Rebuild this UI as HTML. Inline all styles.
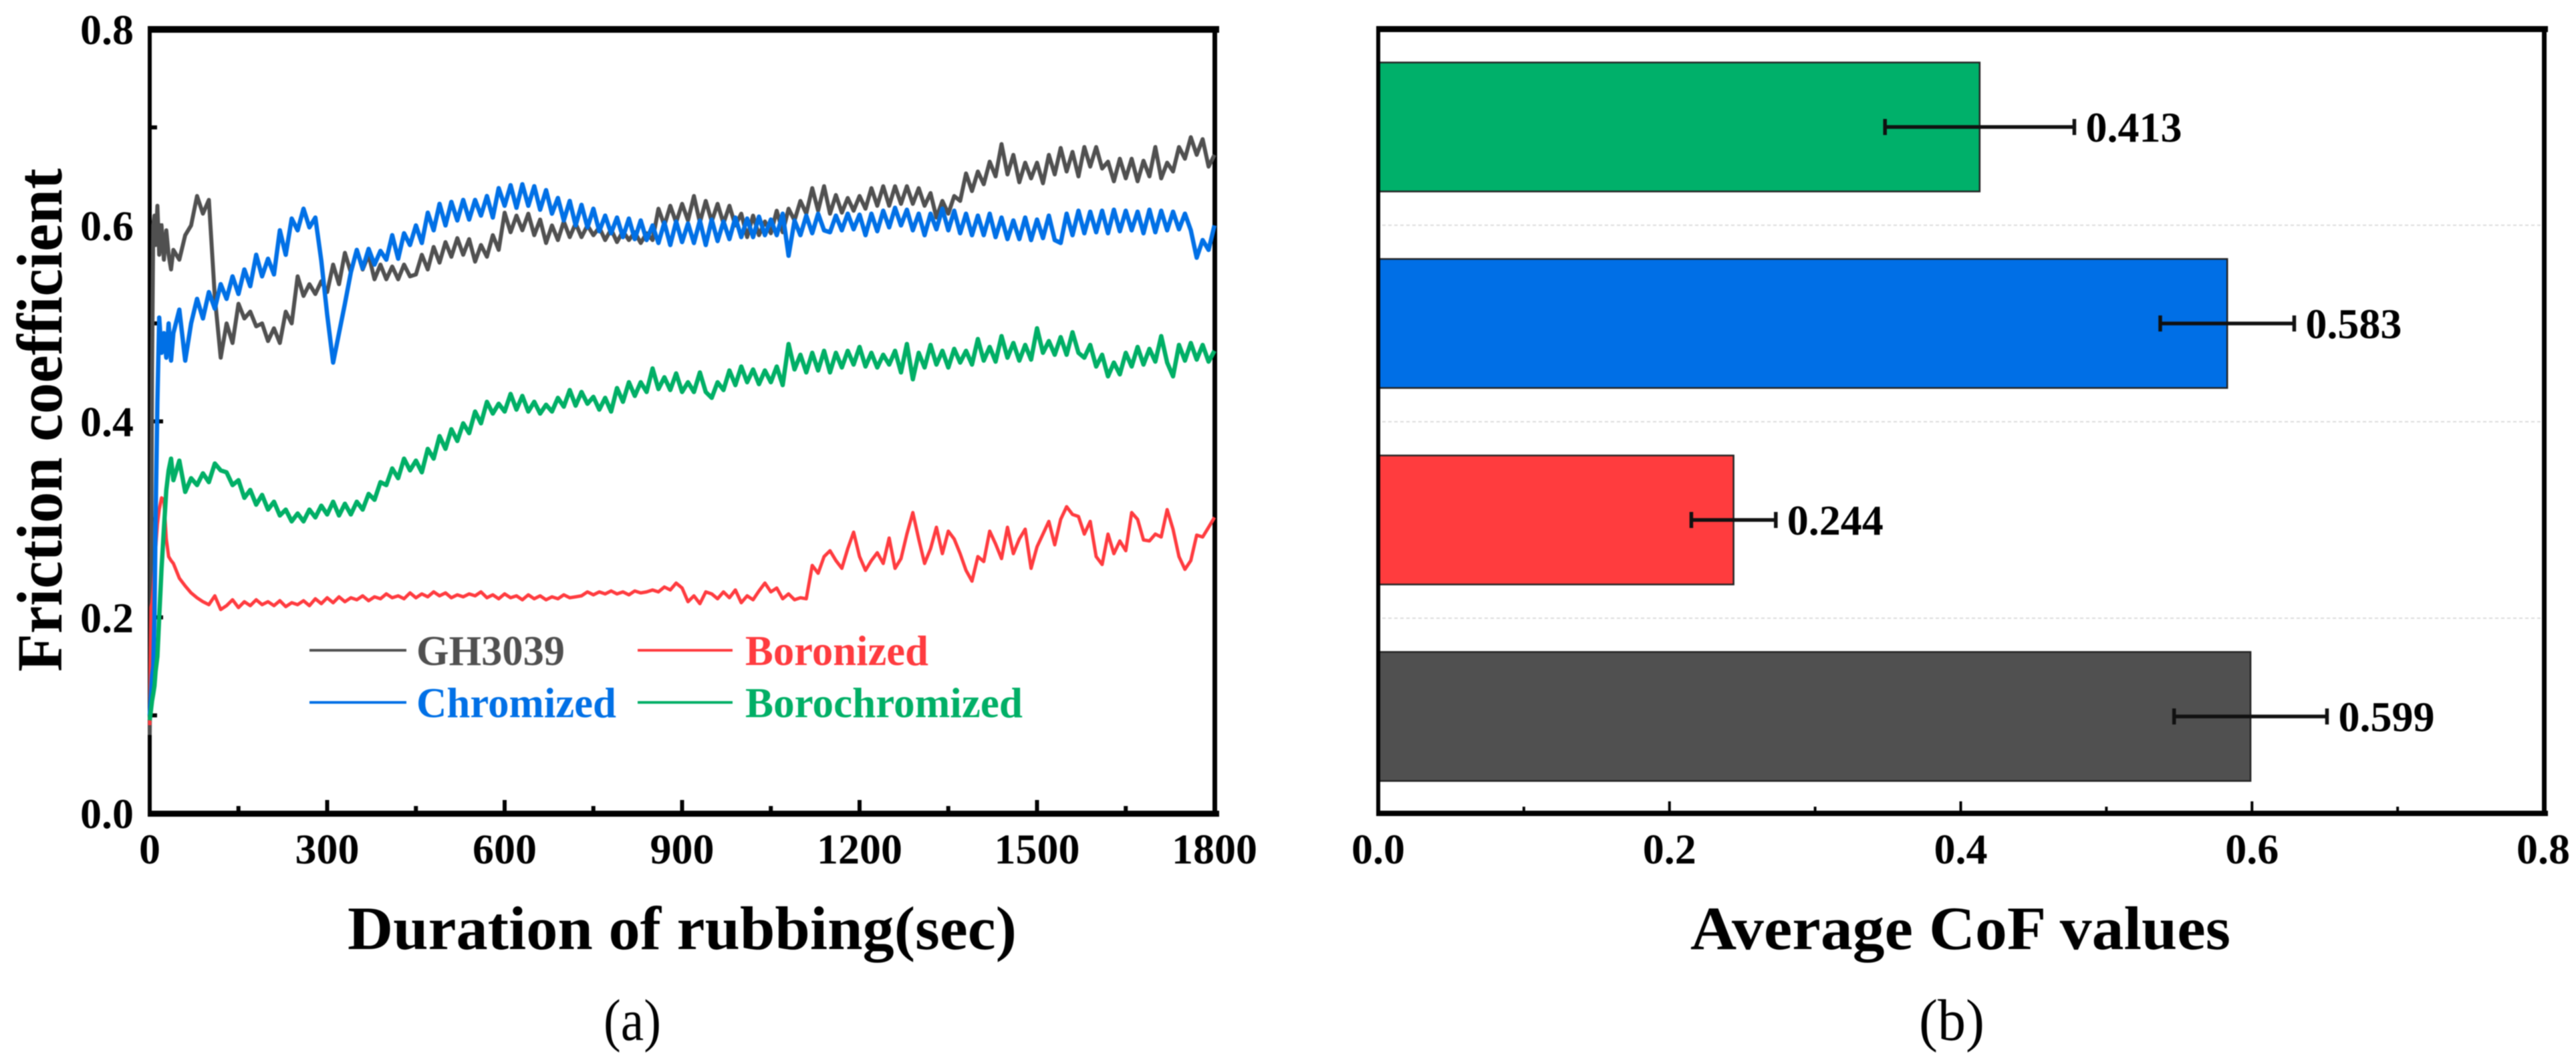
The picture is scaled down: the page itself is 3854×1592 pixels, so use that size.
<!DOCTYPE html>
<html>
<head>
<meta charset="utf-8">
<style>
html,body{margin:0;padding:0;background:#fff;}
svg{display:block;filter:blur(0.8px);}
text{font-family:"Liberation Serif","Noto Serif CJK SC",serif;font-weight:bold;fill:#000;}
</style>
</head>
<body>
<svg id="fig" xmlns="http://www.w3.org/2000/svg" width="3854" height="1592" viewBox="0 0 3854 1592">
  <rect width="3854" height="1592" fill="#fff"/>
  <g id="panelA"></g>
  <g id="panelB"></g>

  <text transform="translate(92,1005) rotate(-90)" font-size="96" textLength="753" lengthAdjust="spacingAndGlyphs">Friction coefficient</text>
  <text x="520" y="1420" font-size="92" textLength="1001" lengthAdjust="spacingAndGlyphs">Duration of rubbing(sec)</text>
  <text x="2529" y="1420" font-size="92" textLength="808" lengthAdjust="spacingAndGlyphs">Average CoF values</text>
  <text x="903" y="1556" font-size="88" style="font-weight:normal" textLength="86" lengthAdjust="spacingAndGlyphs">(a)</text>
  <text x="2871" y="1556" font-size="88" style="font-weight:normal" textLength="98" lengthAdjust="spacingAndGlyphs">(b)</text>

  <g>
    <line x1="463" x2="608" y1="973" y2="973" stroke="#505050" stroke-width="4"/>
    <text x="623" y="995" font-size="64" style="fill:#505050" textLength="222" lengthAdjust="spacingAndGlyphs">GH3039</text>
    <line x1="954" x2="1096" y1="973" y2="973" stroke="#ff3b3f" stroke-width="4"/>
    <text x="1115" y="995" font-size="64" style="fill:#ff3b3f" textLength="274" lengthAdjust="spacingAndGlyphs">Boronized</text>
    <line x1="463" x2="608" y1="1051" y2="1051" stroke="#0070e6" stroke-width="4"/>
    <text x="623" y="1073" font-size="64" style="fill:#0070e6" textLength="299" lengthAdjust="spacingAndGlyphs">Chromized</text>
    <line x1="954" x2="1096" y1="1051" y2="1051" stroke="#00af66" stroke-width="4"/>
    <text x="1115" y="1073" font-size="64" style="fill:#00af66" textLength="415" lengthAdjust="spacingAndGlyphs">Borochromized</text>
  </g>
</svg>
<script>
// ---------- Panel (a) data ----------
const sampleTimes = [0,2,4,6,8,10,13,16,20,24,28,32,36,40,
50,60,70,80,90,100,110,120,130,140,
150,160,170,180,190,200,210,220,230,240,
250,260,270,280,290,300,310,320,330,340,
350,360,370,380,390,400,410,420,430,440,
450,460,470,480,490,500,510,520,530,540,
550,560,570,580,590,600,610,620,630,640,
650,660,670,680,690,700,710,720,730,740,
750,760,770,780,790,800,810,820,830,840,
850,860,870,880,890,900,910,920,930,940,
950,960,970,980,990,1000,1010,1020,1030,1040,
1050,1060,1070,1080,1090,1100,1110,1120,1130,1140,
1150,1160,1170,1180,1190,1200,1210,1220,1230,1240,
1250,1260,1270,1280,1290,1300,1310,1320,1330,1340,
1350,1360,1370,1380,1390,1400,1410,1420,1430,1440,
1450,1460,1470,1480,1490,1500,1510,1520,1530,1540,
1550,1560,1570,1580,1590,1600,1610,1620,1630,1640,
1650,1660,1670,1680,1690,1700,1710,1720,1730,1740,
1750,1760,1770,1780,1790,1800];

const gh3039 = [.08,.20,.45,.60,.61,.58,.62,.57,.60,.565,.595,.57,.555,.575,
.565,.59,.60,.63,.612,.626,.527,.465,.50,.48,
.52,.505,.512,.497,.50,.482,.495,.48,.512,.50,
.548,.528,.54,.53,.543,.532,.56,.54,.572,.552,
.575,.555,.57,.545,.56,.545,.558,.545,.56,.548,
.55,.57,.555,.578,.562,.583,.568,.587,.57,.586,
.563,.58,.568,.59,.575,.613,.593,.61,.595,.612,
.59,.606,.582,.60,.585,.604,.588,.602,.588,.60,
.59,.598,.585,.596,.583,.594,.585,.593,.582,.592,
.585,.617,.60,.62,.603,.622,.605,.63,.603,.625,
.604,.622,.602,.62,.60,.612,.588,.61,.59,.604,
.592,.615,.593,.617,.605,.625,.612,.638,.615,.64,
.612,.631,.613,.628,.615,.63,.617,.638,.62,.64,
.62,.64,.622,.64,.622,.638,.62,.633,.608,.625,
.612,.63,.625,.653,.635,.655,.642,.665,.65,.683,
.652,.672,.644,.664,.648,.664,.643,.672,.652,.679,
.655,.675,.65,.68,.66,.68,.658,.665,.645,.668,
.648,.668,.645,.666,.65,.68,.648,.664,.655,.68,
.668,.69,.672,.688,.66,.672];

const boronized = [.09,.21,.215,.23,.25,.27,.295,.31,.322,.32,.28,.262,.258,.255,
.24,.232,.225,.22,.216,.213,.222,.208,.212,.218,
.21,.216,.212,.218,.213,.216,.212,.217,.211,.215,
.213,.217,.212,.219,.214,.22,.215,.221,.216,.22,
.218,.222,.217,.221,.219,.224,.22,.222,.219,.225,
.22,.224,.221,.226,.222,.225,.22,.223,.221,.224,
.222,.226,.22,.223,.219,.224,.22,.222,.218,.223,
.219,.222,.218,.221,.219,.223,.22,.221,.222,.226,
.223,.226,.224,.227,.224,.226,.223,.227,.225,.226,
.228,.226,.231,.228,.235,.23,.216,.222,.214,.226,
.224,.219,.226,.22,.228,.215,.222,.218,.227,.235,
.226,.23,.219,.224,.218,.22,.219,.253,.245,.262,
.268,.258,.25,.27,.287,.262,.248,.258,.266,.255,
.281,.25,.26,.285,.307,.28,.255,.27,.292,.265,
.288,.28,.265,.248,.237,.262,.257,.288,.275,.26,
.292,.265,.28,.29,.25,.272,.285,.298,.274,.30,
.313,.305,.303,.285,.298,.262,.254,.285,.265,.278,
.268,.307,.30,.279,.278,.285,.282,.31,.29,.262,
.249,.258,.284,.282,.292,.302];

const chromized = [.10,.12,.14,.15,.20,.30,.42,.506,.47,.49,.465,.50,.462,.49,
.514,.462,.50,.525,.505,.532,.515,.54,.525,.548,
.53,.555,.538,.57,.548,.566,.55,.595,.57,.607,
.595,.617,.598,.608,.564,.509,.46,.49,.52,.552,
.575,.556,.576,.56,.574,.565,.59,.566,.592,.58,
.60,.582,.613,.595,.622,.60,.624,.605,.626,.606,
.626,.61,.63,.608,.638,.62,.641,.618,.642,.62,
.64,.616,.636,.612,.628,.605,.625,.60,.621,.598,
.617,.594,.61,.592,.608,.588,.607,.586,.605,.585,
.60,.582,.603,.58,.604,.583,.602,.582,.605,.58,
.606,.584,.604,.586,.608,.588,.607,.588,.609,.59,
.606,.59,.612,.569,.605,.59,.61,.592,.612,.595,
.593,.61,.595,.612,.596,.611,.59,.612,.594,.615,
.598,.618,.60,.616,.595,.612,.59,.612,.596,.617,
.595,.615,.592,.612,.59,.61,.59,.612,.588,.608,
.586,.605,.586,.608,.585,.606,.587,.61,.585,.582,
.612,.59,.615,.592,.614,.593,.615,.592,.616,.594,
.615,.595,.614,.592,.616,.593,.615,.595,.614,.596,
.612,.595,.567,.585,.575,.60];

const borochromized = [.095,.105,.115,.122,.13,.145,.16,.20,.25,.29,.33,.35,.362,.34,
.36,.328,.342,.335,.347,.338,.357,.35,.348,.335,
.34,.322,.33,.315,.325,.31,.318,.304,.31,.298,
.306,.298,.31,.302,.314,.305,.318,.304,.316,.305,
.318,.31,.326,.32,.338,.335,.352,.342,.362,.35,
.36,.348,.372,.362,.385,.372,.392,.38,.398,.388,
.41,.398,.42,.408,.418,.41,.428,.412,.426,.41,
.42,.408,.417,.41,.424,.415,.432,.416,.43,.418,
.425,.412,.424,.41,.434,.42,.44,.426,.44,.43,
.454,.433,.445,.432,.449,.43,.44,.43,.45,.43,
.424,.44,.432,.452,.437,.456,.44,.453,.438,.452,
.44,.456,.437,.479,.453,.468,.45,.47,.452,.472,
.45,.47,.455,.472,.458,.476,.456,.47,.455,.468,
.458,.472,.45,.479,.443,.47,.455,.478,.458,.472,
.455,.474,.46,.472,.458,.484,.462,.476,.461,.487,
.465,.48,.462,.478,.463,.495,.47,.482,.468,.486,
.468,.491,.47,.465,.478,.456,.468,.446,.46,.448,
.47,.456,.476,.458,.474,.461,.487,.46,.446,.478,
.462,.48,.463,.478,.461,.472];

const xTickLabelsA = ["0","300","600","900","1200","1500","1800"];
const xMinorTicksA = [150,450,750,1050,1350,1650];
const yTickLabelsA = ["0.0","0.2","0.4","0.6","0.8"];
const yMinorTicksA = [0.1,0.3,0.5,0.7];

// ---------- Panel (b) data ----------
const barCategories = ["Borochromized","Chromized","Boronized","GH3039"];
const barValues = [0.413,0.583,0.244,0.599];
const barErrors = [0.065,0.046,0.029,0.0525];
const barPrinted = ["0.413","0.583","0.244","0.599"];
const xTickLabelsB = ["0.0","0.2","0.4","0.6","0.8"];
const xMinorTicksB = [0.1,0.3,0.5,0.7];

const NS = "http://www.w3.org/2000/svg";
function make(parent, tag, attrs, txt){
  const el = document.createElementNS(NS, tag);
  for(const k in attrs) el.setAttribute(k, attrs[k]);
  if(txt !== undefined) el.textContent = txt;
  parent.appendChild(el);
  return el;
}

// ---------- Panel (a) ----------
const A = {l:224, r:1817, t:44, b:1217};
const xA = t => A.l + (t/1800)*(A.r-A.l);
const yA = v => A.b - (v/0.8)*(A.b-A.t);
const pa = document.getElementById('panelA');

const seriesColors = {gh3039:'#505050', boronized:'#ff3b3f', chromized:'#0070e6', borochromized:'#00af66'};
const seriesWidths = {gh3039:6, boronized:5, chromized:6.5, borochromized:6.5};
function drawSeries(name, values){
  const d = values.map((v,i)=>(i?'L':'M')+xA(sampleTimes[i]).toFixed(1)+' '+yA(v).toFixed(1)).join('');
  const el = make(pa,'path',{d:d,fill:'none',stroke:seriesColors[name],'stroke-width':seriesWidths[name],'stroke-linejoin':'round'});
  
  
}

xTickLabelsA.forEach(lbl=>{
  const x = xA(+lbl);
  const tk = make(pa,'line',{x1:x,x2:x,y1:A.b,y2:A.b-20,stroke:'#000','stroke-width':6});
  
  
  const tx = make(pa,'text',{x:x,y:1292,'text-anchor':'middle','font-size':64},lbl);
  
  
});
xMinorTicksA.forEach(t=>{
  const x = xA(t);
  const tk = make(pa,'line',{x1:x,x2:x,y1:A.b,y2:A.b-11,stroke:'#000','stroke-width':6});
  
  
});
yTickLabelsA.forEach(lbl=>{
  const y = yA(+lbl);
  const tk = make(pa,'line',{x1:A.l,x2:A.l+20,y1:y,y2:y,stroke:'#000','stroke-width':6});
  
  
  const tx = make(pa,'text',{x:200,y:y+22,'text-anchor':'end','font-size':64},lbl);
  
  
});
yMinorTicksA.forEach(v=>{
  const y = yA(v);
  const tk = make(pa,'line',{x1:A.l,x2:A.l+11,y1:y,y2:y,stroke:'#000','stroke-width':6});
  
  
});
[[A.l-3,A.t-5,A.r-A.l+10,10],[A.l-3,A.b-4,A.r-A.l+10,9],[A.l-3,A.t-5,6,A.b-A.t+9],[A.r-3,A.t-5,7,A.b-A.t+9]].forEach(r=>{
  const s = make(pa,'rect',{x:r[0],y:r[1],width:r[2],height:r[3],fill:'#000'});
  
  
});
drawSeries('gh3039', gh3039);
drawSeries('boronized', boronized);
drawSeries('chromized', chromized);
drawSeries('borochromized', borochromized);

// ---------- Panel (b) ----------
const B = {l:2062, r:3805, t:44, b:1217};
const xB = v => B.l + (v/0.8)*(B.r-B.l);
const bandCenter = i => 190 + 294*i;
const barH = 193;
const barFill = {Borochromized:'#00b06a',Chromized:'#006fe6',Boronized:'#ff3c3e',GH3039:'#505050'};
const pb = document.getElementById('panelB');

barCategories.forEach((c,i)=>{
  if(i < barCategories.length-1){
    const sep = make(pb,'line',{x1:B.l+6,x2:B.r-4,y1:bandCenter(i)+147,y2:bandCenter(i)+147,stroke:'#dcdcdc','stroke-width':2,'stroke-dasharray':'5 4'});
    
    
  }
  const cy = bandCenter(i);
  const bar = make(pb,'rect',{x:B.l,y:cy-barH/2,width:xB(barValues[i])-B.l,height:barH,fill:barFill[c],stroke:'#222','stroke-width':2.5});
  
  
  const lo = xB(barValues[i]-barErrors[i]), hi = xB(barValues[i]+barErrors[i]);
  const err = make(pb,'path',{d:`M${lo} ${cy}H${hi}M${lo} ${cy-12}V${cy+12}M${hi} ${cy-12}V${cy+12}`,fill:'none',stroke:'#111','stroke-width':5.5});
  
  
  const lab = make(pb,'text',{x:hi+17,y:cy+22,'font-size':64},barPrinted[i]);
  
  
});
xTickLabelsB.forEach(lbl=>{
  const x = xB(+lbl);
  const tk = make(pb,'line',{x1:x,x2:x,y1:B.b,y2:B.b-18,stroke:'#000','stroke-width':4});
  
  
  const tx = make(pb,'text',{x:x,y:1292,'text-anchor':'middle','font-size':64},lbl);
  
  
});
xMinorTicksB.forEach(v=>{
  const x = xB(v);
  const tk = make(pb,'line',{x1:x,x2:x,y1:B.b,y2:B.b-10,stroke:'#000','stroke-width':4});
  
  
});
[[B.l-3,B.t-5,B.r-B.l+10,9],[B.l-3,B.b-4,B.r-B.l+10,8],[B.l-3,B.t-5,6,B.b-B.t+9],[B.r-2,B.t-5,7,B.b-B.t+9]].forEach(r=>{
  const s = make(pb,'rect',{x:r[0],y:r[1],width:r[2],height:r[3],fill:'#000'});
  
  
});
</script>
</body>
</html>
